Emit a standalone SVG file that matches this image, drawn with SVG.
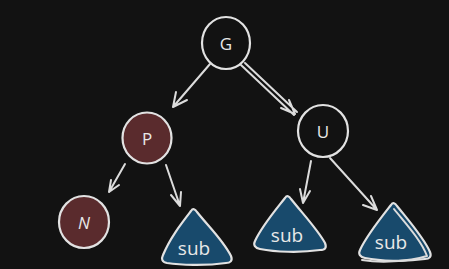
<svg xmlns="http://www.w3.org/2000/svg" width="449" height="269" viewBox="0 0 449 269">
<defs>
<style>
.edge{fill:none;stroke:#dcdcdc;stroke-width:2;stroke-linecap:round;stroke-linejoin:round}
.node{stroke:#e2e2e2;stroke-width:2.2}
.plain{fill:#121212}
.red{fill:#5a2b2d}
.blue{fill:#184a6c}
.lbl{font-family:"Open Sans","Liberation Sans",sans-serif;fill:#e8e8e8;text-anchor:middle;dominant-baseline:central}
.sub{font-size:19px}
</style>
</defs>
<rect width="449" height="269" fill="#121212"/>
<g id="connectors">
<path class="edge" d="M210 64 L173 107 M173 107 L176 92 M173 107 L187 100"/>
<path class="edge" d="M241 65 L294 115 M245 63 L297 112 M295 114 L289 100 M295 114 L281 108"/>
<path class="edge" d="M125 164 L109 192 M109 192 L111 180 M109 192 L119 185"/>
<path class="edge" d="M166 165 L180 206 M180 206 L171 195 M180 206 L181 192"/>
<path class="edge" d="M311 161 L303 203 M303 203 L300 189 M303 203 L310 191"/>
<path class="edge" d="M330 158 L377 210 M377 210 L363 205 M377 210 L371 196"/>
</g>
<g id="G"><ellipse class="node plain" cx="226" cy="43" rx="24" ry="26"/><text class="lbl" x="226" y="43" font-size="17">G</text></g>
<g id="P"><ellipse class="node red" cx="147" cy="138" rx="24.5" ry="25.5"/><text class="lbl" x="147" y="138" font-size="17">P</text></g>
<g id="U"><ellipse class="node plain" cx="323" cy="131" rx="25" ry="26"/><text class="lbl" x="323" y="131" font-size="17">U</text></g>
<g id="N"><ellipse class="node red" cx="84" cy="222" rx="25" ry="26"/><text class="lbl" x="84" y="222" font-size="17" font-style="italic">N</text></g>
<g id="sub1"><path class="node blue" d="M191 211 C193 208 195 209 197 212 C208 226 223 240 231 256 C233 261 230 263 226 263 C205 266 180 265 167 263 C162 262 161 259 163 255 C170 238 181 224 191 211 Z"/><text class="lbl sub" x="194" y="248">sub</text></g>
<g id="sub2"><path class="node blue" d="M285 198 C287 195 289 196 291 199 C303 214 318 230 325 243 C327 248 325 250 320 250 C300 253 275 252 260 249 C255 248 253 245 255 241 C262 226 274 212 285 198 Z"/><text class="lbl sub" x="287" y="235">sub</text></g>
<g id="sub3"><path class="node blue" d="M391 205 C393 202 395 203 397 206 C409 221 424 238 430 252 C432 257 429 259 425 259 C405 262 380 261 365 258 C360 257 358 254 360 250 C367 235 380 219 391 205 Z"/><path class="edge" stroke-width="1.3" d="M394 209 C406 224 421 240 427 256 C407 262 380 263 362 260"/><text class="lbl sub" x="391" y="242">sub</text></g>
</svg>
